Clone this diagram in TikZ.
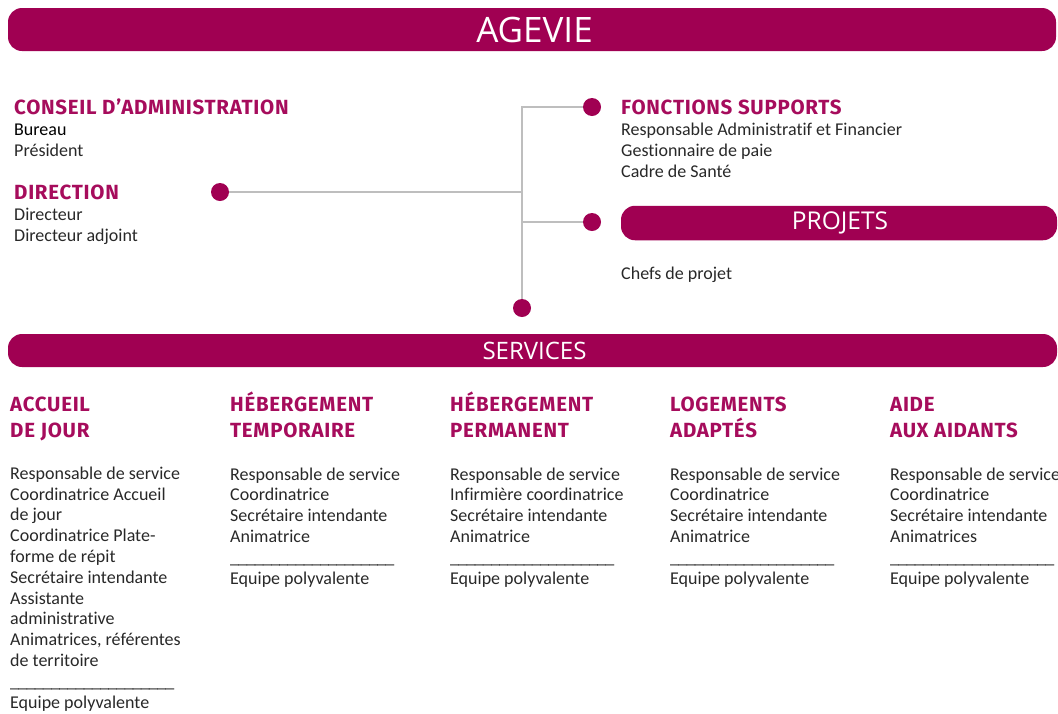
\documentclass[tikz,border=0pt]{standalone}
\usepackage{fontspec}
\setmainfont[Ligatures={NoCommon}]{Carlito}
\newfontfamily\bannerfont{Open Sans}
\newfontfamily\headfont[LetterSpace=3.5]{Fira Sans}
\definecolor{agv}{RGB}{160,0,82}
\definecolor{agvh}{RGB}{166,12,92}
\definecolor{txt}{RGB}{40,40,40}
\definecolor{conn}{RGB}{190,190,190}
\tikzset{
  banner/.style={fill=agv, rounded corners=14pt, inner sep=0pt, text=white},
  head/.style={anchor=base west, inner sep=0pt, text=agvh, align=left,
    font=\headfont\bfseries\fontsize{20.5}{26}\selectfont},
  body/.style={anchor=base west, inner sep=0pt, text=txt, align=left,
    font=\fontsize{18}{20.8}\selectfont},
  dot/.style={circle, fill=agv, inner sep=0pt, minimum size=18pt},
  link/.style={draw=conn, line width=2pt}
}
\newcommand{\usc}{\_\kern-0.8pt}
\newcommand{\rulerow}{\usc\usc\usc\usc\usc\usc\usc\usc\usc\usc\usc\usc\usc\usc\usc\usc\usc\usc\usc\usc}
\begin{document}
\begin{tikzpicture}[x=1pt,y=-1pt]
\useasboundingbox (0,0) rectangle (1058,713);
% banners
\node[banner, minimum width=1048pt, minimum height=43pt] (agevie) at (532,29.5) {};
\node[text=white, font=\bannerfont\fontsize{35}{35}\selectfont] (agevieT) at (534.5,29.5) {AGEVIE};
\node[banner, minimum width=436pt, minimum height=34.5pt] (projets) at (839,223) {};
\node[text=white, font=\bannerfont\fontsize{24.5}{24.5}\selectfont] (projetsT) at (840,223) {PROJETS};
\node[banner, minimum width=1049pt, minimum height=33pt] (services) at (532.5,350.5) {};
\node[text=white, font=\bannerfont\fontsize{24}{24}\selectfont] (servicesT) at (534.5,350.5) {SERVICES};
% top-left (base anchor = baseline of last line)
\node[head] (ca) at (14,114) {CONSEIL D’ADMINISTRATION};
\node[body] (caB) at (14,156.5) {\textcolor{black}{Bureau}\\Président};
\node[head] (dir) at (14,199) {DIRECTION};
\node[body] (dirB) at (14,241) {Directeur\\Directeur adjoint};
% top-right
\node[head] (fs) at (621,114) {FONCTIONS SUPPORTS};
\node[body] (fsB) at (621,177.5) {Responsable Administratif et Financier\\Gestionnaire de paie\\Cadre de Santé};
\node[body] (prB) at (621,279) {Chefs de projet};
% dots and connectors
\node[dot] (dDir) at (220,192) {};
\node[dot] (dFS) at (592,107) {};
\node[dot] (dPr) at (592,222) {};
\node[dot] (dSv) at (522,308) {};
\draw[link] (dFS) -| (dSv);
\draw[link] (dDir) -- (dDir -| dSv);
\draw[link] (dPr) -- (dPr -| dSv);
% service columns
\node[head] (h1) at (10,437) {ACCUEIL\\DE JOUR};
\node[head] (h2) at (230,437) {HÉBERGEMENT\\TEMPORAIRE};
\node[head] (h3) at (450,437) {HÉBERGEMENT\\PERMANENT};
\node[head] (h4) at (670,437) {LOGEMENTS\\ADAPTÉS};
\node[head] (h5) at (890,437) {AIDE\\AUX AIDANTS};
\node[body] (b1) at (10,708) {Responsable de service\\Coordinatrice Accueil\\de jour\\Coordinatrice Plate-\\forme  de répit\\Secrétaire intendante\\Assistante\\administrative\\Animatrices, référentes\\de territoire\\\rulerow\\Equipe polyvalente};
\node[body] (b2) at (230,584) {Responsable de service\\Coordinatrice\\Secrétaire intendante\\Animatrice\\\rulerow\\Equipe polyvalente};
\node[body] (b3) at (450,584) {Responsable de service\\Infirmière coordinatrice\\Secrétaire intendante\\Animatrice\\\rulerow\\Equipe polyvalente};
\node[body] (b4) at (670,584) {Responsable de service\\Coordinatrice\\Secrétaire intendante\\Animatrice\\\rulerow\\Equipe polyvalente};
\node[body] (b5) at (890,584) {Responsable de service\\Coordinatrice\\Secrétaire intendante\\Animatrices\\\rulerow\\Equipe polyvalente};
\end{tikzpicture}
\end{document}
